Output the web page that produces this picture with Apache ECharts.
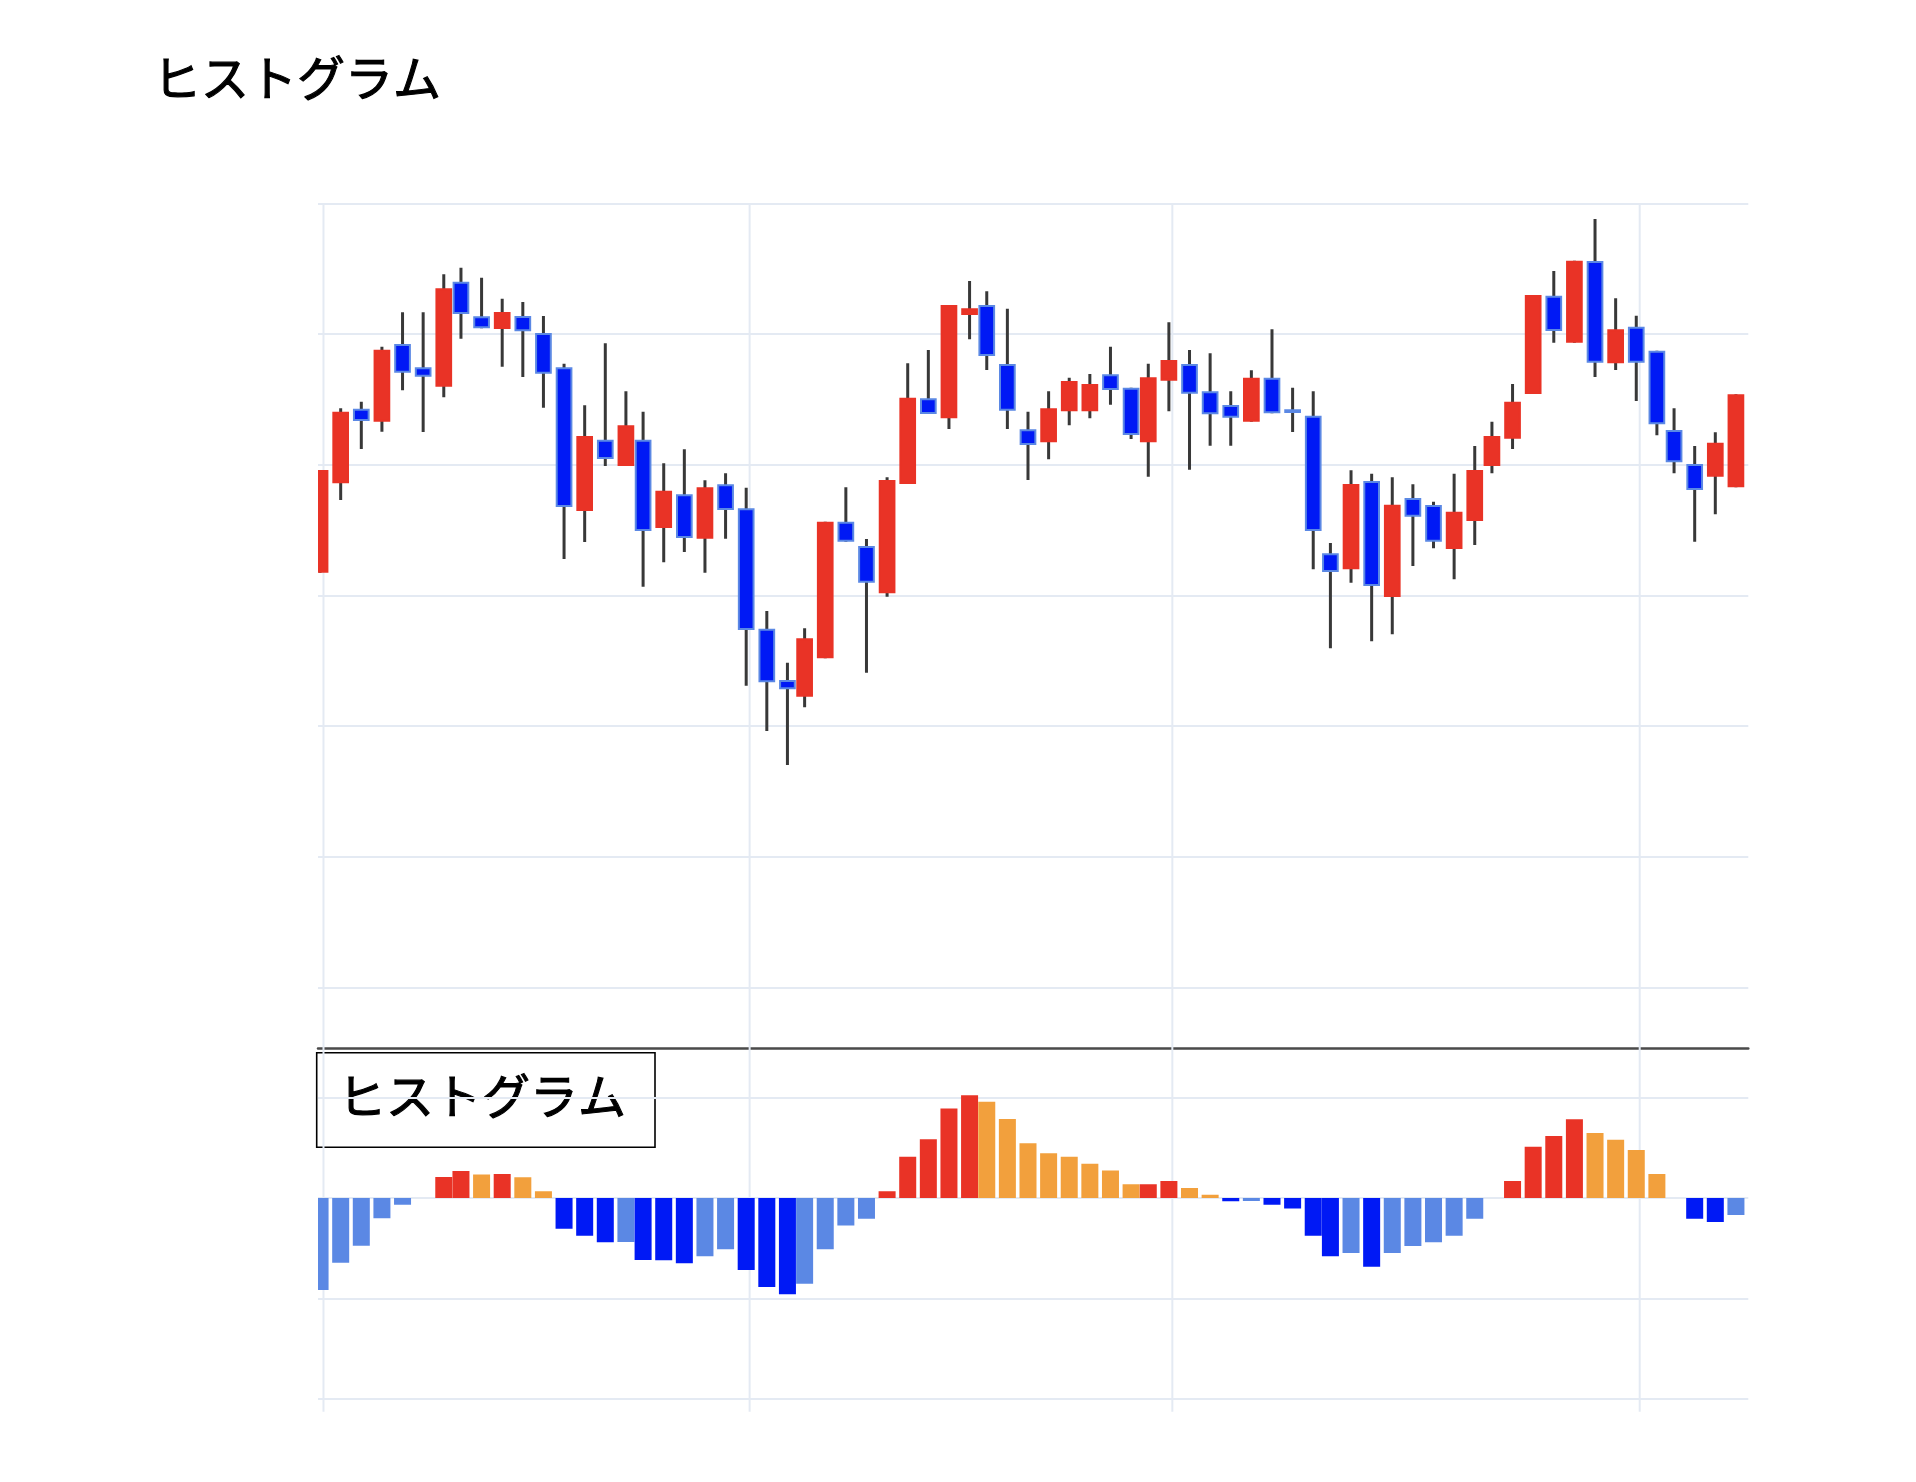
<!DOCTYPE html>
<html>
<head>
<meta charset="utf-8">
<script src="https://cdn.jsdelivr.net/npm/echarts@6/dist/echarts.min.js"></script>
<style>
  html, body { margin: 0; padding: 0; background: #ffffff; }
  #chart { width: 1916px; height: 1482px; }
</style>
</head>
<body>
<div id="chart"></div>
<script>
// ---- data ----
const chartTitle = 'ヒストグラム';
const histLabel = 'ヒストグラム';

// horizontal positions of the sessions (time slots)
const xSlots = [0, 6, 12, 18, 24, 30, 36, 41, 47, 53, 59, 65, 71, 77, 83, 89, 94, 100, 106, 112,
  118, 124, 130, 136, 141, 147, 153, 159, 165, 171, 177, 183, 189, 194, 200, 206, 212, 218, 224, 230,
  236, 241, 247, 253, 259, 265, 271, 277, 283, 289, 294, 300, 306, 312, 318, 324, 330, 336, 341, 347,
  353, 359, 365, 371, 377, 383, 389, 394, 400, 406, 412];

// month boundaries (vertical grid lines)
const monthTicks = [1, 125, 248, 384];

const openP = [1317.4, 1385.8, 1442.8, 1432.9, 1492.3, 1474.5, 1459.7, 1540.0, 1513.5, 1503.8,
  1513.8, 1500.8, 1474.5, 1364.6, 1419.1, 1399.0, 1419.1, 1351.6, 1377.4, 1343.4,
  1385.0, 1366.6, 1274.5, 1235.3, 1222.5, 1251.9, 1356.4, 1337.8, 1301.6, 1385.2,
  1450.8, 1435.5, 1514.5, 1522.2, 1477.0, 1427.1, 1417.1, 1440.9, 1440.9, 1469.2,
  1458.9, 1417.1, 1464.3, 1477.0, 1456.2, 1445.7, 1432.9, 1466.6, 1442.5, 1437.5,
  1332.2, 1320.0, 1387.5, 1298.8, 1374.5, 1369.2, 1335.5, 1356.9, 1399.0, 1419.9,
  1454.1, 1529.3, 1493.3, 1555.9, 1477.6, 1505.6, 1487.2, 1426.5, 1400.5, 1390.8, 1382.7];

const closeP = [1395.9, 1440.6, 1433.4, 1488.0, 1470.4, 1467.3, 1535.0, 1515.3, 1504.4, 1516.8,
  1502.1, 1469.6, 1367.6, 1422.0, 1404.4, 1430.1, 1349.3, 1380.1, 1343.9, 1382.7,
  1365.3, 1273.5, 1233.5, 1228.2, 1267.2, 1356.4, 1341.1, 1309.7, 1388.3, 1451.3,
  1438.8, 1522.2, 1519.7, 1483.2, 1441.3, 1415.1, 1443.2, 1464.0, 1461.7, 1457.2,
  1422.7, 1466.9, 1480.1, 1454.3, 1438.6, 1436.0, 1466.6, 1439.3, 1439.5, 1349.3,
  1317.9, 1385.2, 1307.2, 1369.4, 1360.2, 1341.1, 1364.0, 1395.9, 1422.0, 1448.2,
  1529.8, 1502.3, 1556.1, 1478.0, 1503.6, 1478.0, 1430.9, 1401.8, 1380.6, 1416.8, 1453.9];

const lowP = [1317.4, 1373.0, 1412.0, 1425.2, 1456.9, 1425.0, 1451.6, 1496.4, 1504.4, 1475.0,
  1467.1, 1443.6, 1327.8, 1340.9, 1399.0, 1399.0, 1306.7, 1325.3, 1333.2, 1317.4,
  1343.4, 1230.9, 1196.3, 1170.2, 1214.4, 1251.9, 1341.1, 1240.9, 1299.0, 1385.2,
  1438.8, 1427.3, 1495.9, 1472.5, 1427.3, 1388.3, 1404.1, 1430.1, 1435.5, 1445.9,
  1419.7, 1390.8, 1440.9, 1396.2, 1414.5, 1414.5, 1432.9, 1439.3, 1425.0, 1320.0,
  1259.5, 1309.7, 1264.9, 1270.2, 1322.5, 1336.0, 1312.3, 1338.6, 1393.4, 1412.0,
  1454.1, 1493.3, 1493.3, 1467.1, 1472.5, 1448.7, 1422.5, 1393.4, 1341.1, 1362.1, 1382.7];

const highP = [1395.9, 1443.2, 1448.2, 1490.3, 1516.6, 1516.6, 1545.7, 1550.7, 1543.1, 1527.0,
  1524.5, 1513.8, 1477.3, 1445.4, 1492.9, 1456.2, 1440.6, 1401.1, 1411.8, 1388.1,
  1393.4, 1382.4, 1288.1, 1248.5, 1274.8, 1356.4, 1382.7, 1343.2, 1390.4, 1477.6,
  1487.8, 1522.2, 1540.6, 1532.7, 1519.4, 1440.6, 1456.2, 1466.6, 1469.4, 1490.3,
  1458.9, 1477.3, 1509.0, 1487.8, 1485.2, 1456.2, 1472.2, 1503.6, 1458.9, 1456.2,
  1340.1, 1395.7, 1393.1, 1390.4, 1385.0, 1371.7, 1393.1, 1414.3, 1432.9, 1461.7,
  1529.8, 1548.2, 1556.1, 1588.0, 1527.3, 1514.0, 1487.2, 1443.2, 1414.3, 1424.8, 1453.9];

const histValues = [-9.15, -6.43, -4.74, -2.02, -0.66, 0, 2.09, 2.69, 2.34, 2.40,
  2.06, 0.67, -3.05, -3.74, -4.41, -4.38, -6.17, -6.19, -6.50, -5.80,
  -5.10, -7.16, -8.86, -9.58, -8.52, -5.10, -2.72, -2.05, 0.67, 4.12,
  5.84, 8.90, 10.22, 9.59, 7.86, 5.44, 4.45, 4.12, 3.42, 2.73,
  1.36, 1.38, 1.69, 1.00, 0.34, -0.33, -0.30, -0.66, -1.03, -3.74,
  -5.80, -5.47, -6.83, -5.47, -4.78, -4.41, -3.74, -2.05, 0, 1.69,
  5.11, 6.17, 7.83, 6.47, 5.81, 4.78, 2.39, 0, -2.05, -2.39, -1.69];

// ---- styling ----
const RED = '#e93326';
const ORANGE = '#f2a03d';
const BLUE = '#0019f5';
const LIGHT_BLUE = '#5b88e4';
const WICK = '#383838';
const GRID = '#e4eaf3';
const BODY_W = 4.86;   // candle width in slot units
const BAR_W = 4.95;    // histogram bar width in slot units
const TEXT_FONT = '48px "Noto Sans CJK JP"';

const candleData = xSlots.map((t, i) => [t, openP[i], closeP[i], lowP[i], highP[i]]);
const histData = xSlots.map((t, i) => [t, histValues[i]]);
const histColors = histValues.map((v, i) => {
  const prev = i === 0 ? -Infinity : histValues[i - 1];
  if (v >= 0) return v >= prev ? RED : ORANGE;
  return v >= prev ? LIGHT_BLUE : BLUE;
});

function renderCandle(params, api) {
  const t = api.value(0), o = api.value(1), c = api.value(2), l = api.value(3), h = api.value(4);
  const up = c >= o;
  const pHigh = api.coord([t, h]);
  const pLow = api.coord([t, l]);
  const pTop = api.coord([t, Math.max(o, c)]);
  const pBot = api.coord([t, Math.min(o, c)]);
  const w = api.size([BODY_W, 0])[0];
  const bw = 2;
  const children = [];
  if (pLow[1] - pHigh[1] > 0.5) {
    children.push({ type: 'line', shape: { x1: pHigh[0], y1: pHigh[1], x2: pLow[0], y2: pLow[1] },
      style: { stroke: WICK, lineWidth: 3 } });
  }
  const hh = Math.max(pBot[1] - pTop[1] - bw, 0.6);
  children.push({ type: 'rect',
    shape: { x: pTop[0] - w / 2 + bw / 2, y: pTop[1] + bw / 2, width: w - bw, height: hh },
    style: { fill: up ? RED : BLUE, stroke: up ? RED : LIGHT_BLUE, lineWidth: bw } });
  return { type: 'group', children };
}

function renderHist(params, api) {
  const t = api.value(0), v = api.value(1);
  if (v === 0) return null;
  const a = api.coord([t - BAR_W / 2, v]);
  const b = api.coord([t + BAR_W / 2, 0]);
  return { type: 'rect',
    shape: { x: a[0], y: Math.min(a[1], b[1]), width: b[0] - a[0], height: Math.abs(b[1] - a[1]) },
    style: { fill: histColors[params.dataIndex] } };
}

function renderVLine(params, api) {
  const p = api.coord([api.value(0), 0]);
  const cs = params.coordSys;
  return { type: 'line', shape: { x1: p[0], y1: cs.y, x2: p[0], y2: cs.y + cs.height },
    style: { stroke: GRID, lineWidth: 2 } };
}

const chart = echarts.init(document.getElementById('chart'), null, { renderer: 'canvas' });

const hiddenX = (gi, showLine) => ({
  type: 'value', gridIndex: gi, min: -0.6, max: 415.6,
  axisLine: { show: showLine, onZero: false, lineStyle: { color: '#4a4a4a', width: 2.5 } },
  axisTick: { show: false }, axisLabel: { show: false }, splitLine: { show: false }
});

const textStyle = (txt) => ({
  text: txt, font: TEXT_FONT, fill: '#000000', stroke: '#000000', lineWidth: 1.1,
  textVerticalAlign: 'middle', verticalAlign: 'middle'
});

chart.setOption({
  animation: false,
  backgroundColor: '#ffffff',
  grid: [
    { left: 318, right: 167.7, top: 203.3, height: 844.7 },
    { left: 318, right: 167.7, top: 1048, height: 363.7 }
  ],
  xAxis: [hiddenX(0, true), hiddenX(1, false)],
  yAxis: [
    { type: 'value', gridIndex: 0, min: 953.7, max: 1600,
      axisLine: { show: false }, axisTick: { show: false }, axisLabel: { show: false },
      splitLine: { show: true, showMinLine: false, lineStyle: { color: GRID, width: 2 } } },
    { type: 'value', gridIndex: 1, min: -21.26, max: 14.93,
      axisLine: { show: false }, axisTick: { show: false }, axisLabel: { show: false },
      splitLine: { show: true, showMinLine: false, showMaxLine: false, lineStyle: { color: GRID, width: 2 } } }
  ],
  series: [
    { type: 'custom', name: 'vgrid-main', xAxisIndex: 0, yAxisIndex: 0, z: 1, silent: true,
      renderItem: renderVLine, data: monthTicks.map(t => [t]), encode: { x: 0 } },
    { type: 'custom', name: 'vgrid-hist', xAxisIndex: 1, yAxisIndex: 1, z: 1, silent: true,
      renderItem: renderVLine, data: monthTicks.map(t => [t]), encode: { x: 0 } },
    { type: 'custom', name: 'candles', xAxisIndex: 0, yAxisIndex: 0, z: 3, clip: true,
      renderItem: renderCandle, data: candleData, encode: { x: 0, y: [1, 2, 3, 4] } },
    { type: 'custom', name: 'hist', xAxisIndex: 1, yAxisIndex: 1, z: 3, clip: true,
      renderItem: renderHist, data: histData, encode: { x: 0, y: 1 } }
  ],
  graphic: [
    { type: 'text', x: 153, y: 78, z: 10, style: textStyle(chartTitle) },
    { type: 'group', z: 10, children: [
      { type: 'rect', shape: { x: 316.7, y: 1052.7, width: 338.3, height: 94.6 },
        style: { fill: '#ffffff', stroke: '#000000', lineWidth: 1.6 } },
      { type: 'text', x: 338, y: 1096, style: textStyle(histLabel) }
    ] }
  ]
});
</script>
</body>
</html>
